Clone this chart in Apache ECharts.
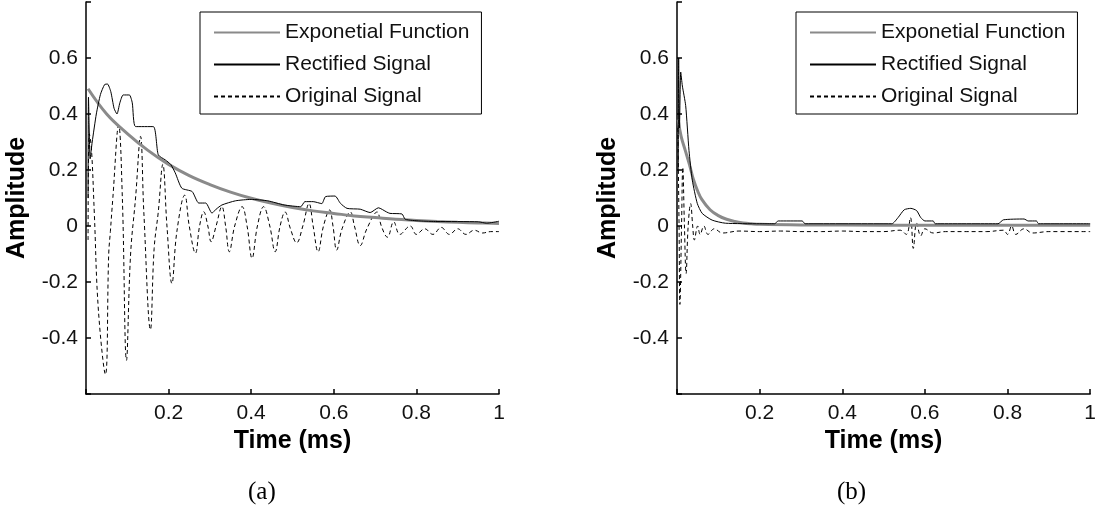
<!DOCTYPE html>
<html>
<head>
<meta charset="utf-8">
<script src="https://cdn.jsdelivr.net/npm/echarts@6/dist/echarts.min.js"></script>
<style>
html,body{margin:0;padding:0;background:#fff;}
#c{width:1099px;height:510px;}
</style>
</head>
<body>
<div id="c"></div>
<script>
// ---- data ----
const seriesNames = ['Exponetial Function', 'Rectified Signal', 'Original Signal'];
const xTicks = [0, 0.2, 0.4, 0.6, 0.8, 1];
const yTicks = [-0.6, -0.4, -0.2, 0, 0.2, 0.4, 0.6, 0.8];
const captions = ['(a)', '(b)'];

// (a)
const aExp = [[0.005,0.49],[0.05,0.40],[0.1,0.33],[0.15,0.27],[0.2,0.22],[0.25,0.18],[0.3,0.148],[0.35,0.121],[0.4,0.099],[0.45,0.081],[0.5,0.066],[0.55,0.054],[0.6,0.045],[0.65,0.036],[0.7,0.030],[0.75,0.024],[0.8,0.020],[0.85,0.016],[0.9,0.013],[0.95,0.011],[1.0,0.009]];
const aRect = [[0.005,0.10],[0.006,0.46],[0.01,0.24],[0.015,0.30],[0.025,0.40],[0.035,0.47],[0.045,0.505],[0.052,0.507],[0.06,0.48],[0.068,0.42],[0.075,0.40],[0.082,0.44],[0.09,0.468],[0.105,0.468],[0.112,0.44],[0.12,0.355],[0.163,0.355],[0.175,0.254],[0.192,0.236],[0.205,0.22],[0.216,0.19],[0.232,0.135],[0.257,0.123],[0.273,0.082],[0.29,0.082],[0.305,0.046],[0.315,0.06],[0.329,0.075],[0.362,0.09],[0.40,0.095],[0.44,0.09],[0.48,0.075],[0.52,0.069],[0.53,0.087],[0.55,0.087],[0.571,0.08],[0.58,0.105],[0.603,0.107],[0.616,0.081],[0.632,0.063],[0.664,0.06],[0.688,0.048],[0.708,0.065],[0.728,0.05],[0.736,0.045],[0.765,0.043],[0.773,0.024],[0.809,0.018],[0.85,0.016],[0.95,0.015],[0.97,0.01],[1.0,0.017]];
const aOrig = [[0.005,-0.05],[0.008,0.33],[0.013,0.28],[0.02,0.05],[0.03,-0.3],[0.047,-0.53],[0.055,-0.1],[0.059,-0.02],[0.065,0.1],[0.079,0.36],[0.088,0.1],[0.098,-0.48],[0.108,-0.1],[0.12,0.1],[0.132,0.32],[0.14,0.05],[0.156,-0.37],[0.165,-0.08],[0.175,0.05],[0.186,0.22],[0.196,0.0],[0.208,-0.205],[0.22,-0.02],[0.239,0.11],[0.25,0.0],[0.265,-0.097],[0.275,0.0],[0.285,0.051],[0.295,0.0],[0.303,-0.056],[0.315,0.0],[0.329,0.069],[0.338,0.0],[0.347,-0.092],[0.36,0.0],[0.378,0.069],[0.39,0.0],[0.402,-0.115],[0.415,0.0],[0.43,0.069],[0.445,0.0],[0.458,-0.092],[0.47,0.0],[0.482,0.05],[0.495,-0.01],[0.51,-0.06],[0.525,0.0],[0.54,0.08],[0.55,0.0],[0.562,-0.092],[0.575,0.0],[0.59,0.057],[0.598,0.0],[0.607,-0.086],[0.62,-0.01],[0.64,0.05],[0.65,0.0],[0.664,-0.07],[0.68,-0.01],[0.705,0.05],[0.715,0.0],[0.73,-0.04],[0.745,0.015],[0.76,-0.03],[0.785,0.0],[0.8,-0.03],[0.82,-0.01],[0.84,-0.03],[0.86,-0.005],[0.88,-0.03],[0.9,-0.01],[0.92,-0.03],[0.94,-0.015],[0.96,-0.025],[0.98,-0.02],[1.0,-0.02]];

// (b)
const bExp = [[0.003,0.38],[0.01,0.32],[0.02,0.27],[0.03,0.22],[0.04,0.165],[0.05,0.125],[0.06,0.095],[0.08,0.058],[0.1,0.037],[0.12,0.024],[0.14,0.016],[0.16,0.011],[0.18,0.008],[0.2,0.006],[0.3,0.004],[0.5,0.003],[0.7,0.003],[1.0,0.003]];
const bRect = [[0.003,0.2],[0.004,0.6],[0.006,0.35],[0.009,0.55],[0.013,0.5],[0.021,0.43],[0.029,0.27],[0.037,0.164],[0.049,0.081],[0.061,0.045],[0.085,0.021],[0.117,0.01],[0.2,0.008],[0.236,0.008],[0.245,0.018],[0.303,0.018],[0.31,0.008],[0.52,0.008],[0.535,0.03],[0.55,0.058],[0.566,0.063],[0.58,0.055],[0.59,0.03],[0.6,0.018],[0.62,0.018],[0.625,0.008],[0.777,0.008],[0.79,0.022],[0.84,0.025],[0.85,0.018],[0.87,0.018],[0.875,0.008],[1.0,0.008]];
const bOrig = [[0.002,0.35],[0.005,0.0],[0.007,-0.28],[0.011,0.0],[0.014,0.21],[0.018,0.0],[0.022,-0.17],[0.027,0.0],[0.033,0.08],[0.038,0.0],[0.042,-0.05],[0.05,0.0],[0.056,-0.03],[0.065,0.0],[0.075,-0.03],[0.09,-0.01],[0.11,-0.025],[0.15,-0.018],[0.2,-0.02],[0.25,-0.018],[0.3,-0.02],[0.35,-0.02],[0.4,-0.018],[0.45,-0.02],[0.5,-0.02],[0.54,-0.015],[0.555,-0.03],[0.565,0.03],[0.572,-0.08],[0.58,0.01],[0.59,-0.035],[0.6,-0.01],[0.62,-0.025],[0.65,-0.02],[0.7,-0.02],[0.75,-0.02],[0.79,-0.015],[0.8,-0.03],[0.81,0.0],[0.82,-0.03],[0.84,-0.01],[0.86,-0.025],[0.9,-0.02],[1.0,-0.02]];

// ---- chart ----
const FONT = '"Liberation Sans", Arial, sans-serif';
const chart = echarts.init(document.getElementById('c'), null, {renderer: 'canvas'});

const xStep = xTicks[1] - xTicks[0];
const yStep = yTicks[1] - yTicks[0];
const yMin = yTicks[0], yMax = yTicks[yTicks.length - 1];

function xAxisFor(i) {
  return {
    type: 'value', gridIndex: i, min: xTicks[0], max: xTicks[xTicks.length - 1], interval: xStep,
    name: 'Time (ms)', nameLocation: 'middle', nameGap: 34,
    nameTextStyle: {fontFamily: FONT, fontWeight: 'bold', fontSize: 25, color: '#000'},
    axisLine: {onZero: false, lineStyle: {color: '#000', width: 1.5}},
    axisTick: {inside: true, length: 5, lineStyle: {color: '#000', width: 1.5}},
    axisLabel: {fontFamily: FONT, fontSize: 21, color: '#111', margin: 9,
      formatter: v => (Math.abs(v) < 1e-9 ? '' : String(+v.toFixed(1)))},
    splitLine: {show: false}
  };
}
function yAxisFor(i) {
  return {
    type: 'value', gridIndex: i, min: yMin, max: yMax, interval: yStep,
    name: 'Amplitude', nameLocation: 'middle', nameGap: 56, nameRotate: 90,
    nameTextStyle: {fontFamily: FONT, fontWeight: 'bold', fontSize: 25, color: '#000'},
    axisLine: {onZero: false, lineStyle: {color: '#000', width: 1.5}},
    axisTick: {inside: true, length: 5, lineStyle: {color: '#000', width: 1.5}},
    axisLabel: {fontFamily: FONT, fontSize: 21, color: '#111', margin: 8,
      formatter: v => (Math.abs(v - yMin) < 1e-9 || Math.abs(v - yMax) < 1e-9 ? '' : String(+v.toFixed(1)))},
    splitLine: {show: false}
  };
}
function seriesFor(i, exp, rect, orig) {
  return [
    {name: seriesNames[0], type: 'line', xAxisIndex: i, yAxisIndex: i, data: exp, symbol: 'none', smooth: 0.4,
      lineStyle: {color: '#8a8a8a', width: 3}, itemStyle: {color: '#8a8a8a'}, z: 3},
    {name: seriesNames[1], type: 'line', xAxisIndex: i, yAxisIndex: i, data: rect, symbol: 'none', smooth: 0.2,
      lineStyle: {color: '#000', width: 1}, itemStyle: {color: '#000'}, z: 4},
    {name: seriesNames[2], type: 'line', xAxisIndex: i, yAxisIndex: i, data: orig, symbol: 'none', smooth: 0.4,
      lineStyle: {color: '#000', width: 1, type: [4, 3]}, itemStyle: {color: '#000'}, z: 2}
  ];
}
function legendAt(left) {
  return {
    orient: 'vertical', left: left, top: 12, data: seriesNames,
    itemWidth: 66, itemHeight: 21, itemGap: 11, padding: [10, 12, 7, 13],
    borderColor: '#000', borderWidth: 1, backgroundColor: '#fff',
    itemStyle: {opacity: 0},
    textStyle: {fontFamily: FONT, fontSize: 21, color: '#111'},
    selectedMode: false
  };
}

chart.setOption({
  animation: false,
  backgroundColor: '#fff',
  grid: [
    {left: 86, right: 600, top: 2, bottom: 116},
    {left: 677, right: 4, top: 2, bottom: 116}
  ],
  xAxis: [xAxisFor(0), xAxisFor(1)],
  yAxis: [yAxisFor(0), yAxisFor(1)],
  legend: [legendAt(200), legendAt(796)],
  series: [].concat(seriesFor(0, aExp, aRect, aOrig), seriesFor(1, bExp, bRect, bOrig)),
  graphic: [
    {type: 'text', left: 248, top: 480, style: {text: captions[0], font: '25px "Liberation Serif", "DejaVu Serif", serif', fill: '#000'}},
    {type: 'text', left: 837, top: 480, style: {text: captions[1], font: '25px "Liberation Serif", "DejaVu Serif", serif', fill: '#000'}}
  ]
});
</script>
</body>
</html>
